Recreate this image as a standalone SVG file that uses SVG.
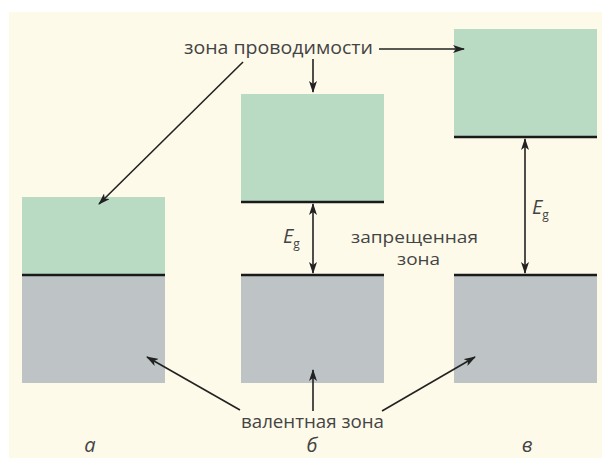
<svg xmlns="http://www.w3.org/2000/svg" width="602" height="458" viewBox="0 0 602 458">
<defs>
<style>
.t{font-family:"Open Sans","Noto Sans",sans-serif;font-size:18.5px;fill:#444444}
.s{font-family:"Open Sans","Noto Sans",sans-serif;font-size:16px;fill:#444444}
.i{font-family:"Open Sans","Noto Sans",sans-serif;font-size:20px;font-style:italic;fill:#444444}
.cb{fill:#b9dbc4}
.vb{fill:#bec4c5}
.edge{stroke:#1a1a1a;stroke-width:2.4}
.c{stroke:#222;stroke-width:1.6;fill:none}
</style>
<marker id="ah" viewBox="0 0 12 8" refX="11" refY="4" markerWidth="12" markerHeight="8" markerUnits="userSpaceOnUse" orient="auto-start-reverse">
<path d="M0,0 L12,4 L0,8 L3,4 Z" fill="#222"/>
</marker>
</defs>
<rect width="602" height="458" fill="#ffffff"/>
<rect x="9" y="12" width="593" height="446" fill="#fefaea"/>
<g id="band-a">
<rect class="cb" x="22" y="197" width="143" height="78"/>
<rect class="vb" x="22" y="275" width="143" height="108"/>
<line class="edge" x1="22" y1="275" x2="165" y2="275"/>
</g>
<g id="band-b">
<rect class="cb" x="241" y="94" width="143" height="108"/>
<rect class="vb" x="241" y="275" width="143" height="108"/>
<line class="edge" x1="241" y1="202" x2="384" y2="202"/>
<line class="edge" x1="241" y1="275" x2="384" y2="275"/>
</g>
<g id="band-c">
<rect class="cb" x="454" y="29" width="143" height="108"/>
<rect class="vb" x="454" y="275" width="143" height="108"/>
<line class="edge" x1="454" y1="137" x2="597" y2="137"/>
<line class="edge" x1="454" y1="275" x2="597" y2="275"/>
</g>
<g id="labels">
<text class="t" x="184" y="54" textLength="189" lengthAdjust="spacingAndGlyphs">зона проводимости</text>
<text class="s" x="351" y="243" textLength="127" lengthAdjust="spacingAndGlyphs">запрещенная</text>
<text class="s" x="397" y="265" textLength="43" lengthAdjust="spacingAndGlyphs">зона</text>
<text class="t" x="241" y="428" textLength="143" lengthAdjust="spacingAndGlyphs">валентная зона</text>
<text class="i" x="283" y="243">E<tspan font-size="12" dy="5" font-style="normal">g</tspan></text>
<text class="i" x="532" y="214">E<tspan font-size="12" dy="5" font-style="normal">g</tspan></text>
<text class="i" x="90" y="452" text-anchor="middle">а</text>
<text class="i" x="312" y="452" text-anchor="middle">б</text>
<text class="i" x="527" y="452" text-anchor="middle">в</text>
</g>
<g id="connectors">
<line class="c" x1="379" y1="49" x2="464" y2="49" marker-end="url(#ah)"/>
<line class="c" x1="313" y1="59" x2="313" y2="92" marker-end="url(#ah)"/>
<line class="c" x1="243" y1="62" x2="99" y2="204" marker-end="url(#ah)"/>
<line class="c" x1="313" y1="204" x2="313" y2="273" marker-start="url(#ah)" marker-end="url(#ah)"/>
<line class="c" x1="525" y1="139" x2="525" y2="273" marker-start="url(#ah)" marker-end="url(#ah)"/>
<line class="c" x1="240" y1="410" x2="147" y2="357" marker-end="url(#ah)"/>
<line class="c" x1="313" y1="411" x2="313" y2="370" marker-end="url(#ah)"/>
<line class="c" x1="382" y1="411" x2="475" y2="357" marker-end="url(#ah)"/>
</g>
</svg>
